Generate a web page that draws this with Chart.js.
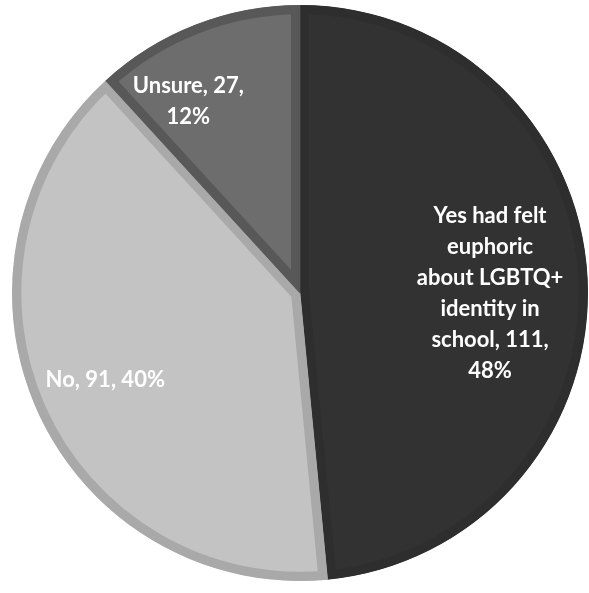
<!DOCTYPE html>
<html lang="en">
<head>
    <meta charset="UTF-8">
    <title>LGBTQ+ euphoria in school</title>
    <script src="https://cdn.jsdelivr.net/npm/chart.js"></script>
    <style>
        html, body { margin: 0; padding: 0; background: #fff; }
        .wrap { width: 589px; height: 593px; }
    </style>
</head>
<body>
    <div class="wrap">
        <canvas id="pie"></canvas>
    </div>

    <script>
        // Survey answers
        const categories = ['Yes had felt euphoric about LGBTQ+ identity in school', 'No', 'Unsure'];
        const counts = [111, 91, 27];
        const percents = [48, 40, 12];

        // Label text split into lines the way it is printed on the slices
        const labelLines = [
            ['Yes had felt', 'euphoric', 'about LGBTQ+', 'identity in', 'school, 111,', '48%'],
            ['No, 91, 40%'],
            ['Unsure, 27,', '12%']
        ];

        const fills = ['#323232', '#c3c3c3', '#6d6d6d'];
        const edges = ['#2e2e2e', '#a9a9a9', '#585858'];

        // where each label sits: fraction of radius, angle nudge (degrees)
        const labelPlace = [[0.66, 3], [0.74, 0], [0.77, -9]];

        const sliceLabels = {
            id: 'sliceLabels',
            afterDatasetsDraw(chart) {
                const ctx = chart.ctx;
                const arcs = chart.getDatasetMeta(0).data;
                ctx.save();
                ctx.fillStyle = '#ffffff';
                ctx.font = 'bold 22px Lato, "Open Sans", sans-serif';
                ctx.textAlign = 'center';
                ctx.textBaseline = 'middle';
                arcs.forEach((arc, i) => {
                    const p = arc.getProps(['x', 'y', 'startAngle', 'endAngle', 'outerRadius']);
                    const mid = (p.startAngle + p.endAngle) / 2 + labelPlace[i][1] * Math.PI / 180;
                    const r = p.outerRadius * labelPlace[i][0];
                    const cx = p.x + Math.cos(mid) * r;
                    const cy = p.y + Math.sin(mid) * r;
                    const lines = labelLines[i];
                    const lh = 31;
                    lines.forEach((t, k) => {
                        ctx.fillText(t, cx, cy + (k - (lines.length - 1) / 2) * lh);
                    });
                });
                ctx.restore();
            }
        };

        new Chart(document.getElementById('pie'), {
            type: 'pie',
            data: {
                labels: categories,
                datasets: [{
                    data: counts,
                    backgroundColor: fills,
                    borderColor: edges,
                    borderWidth: 9,
                    borderAlign: 'inner',
                    hoverOffset: 0
                }]
            },
            options: {
                responsive: true,
                maintainAspectRatio: false,
                animation: false,
                layout: { padding: { left: 12, right: 1, top: 5, bottom: 12 } },
                plugins: {
                    legend: { display: false },
                    tooltip: { enabled: false }
                }
            },
            plugins: [sliceLabels]
        });
    </script>
</body>
</html>
